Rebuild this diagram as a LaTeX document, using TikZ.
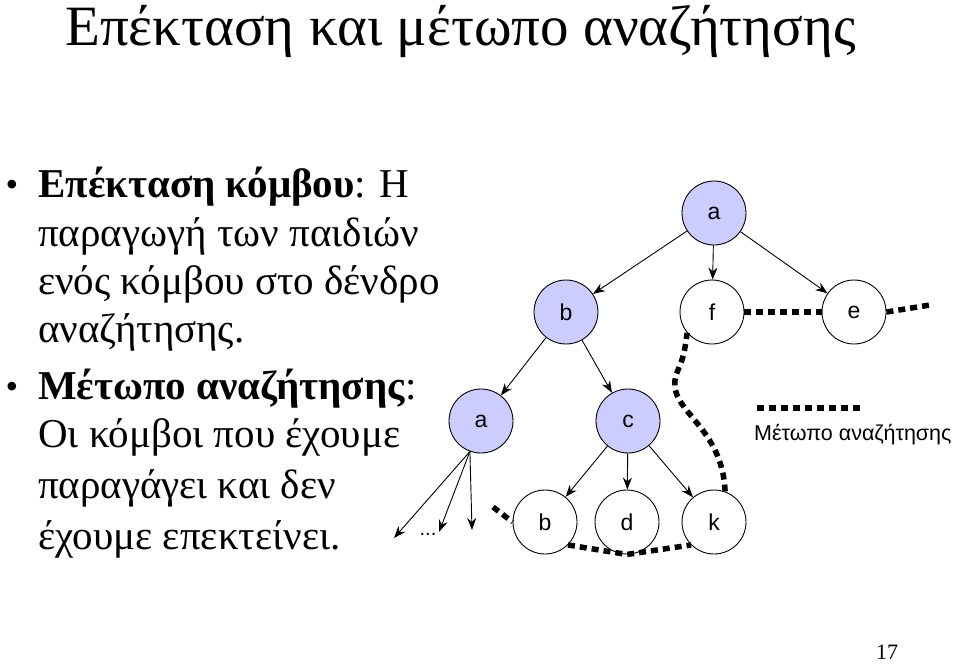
\documentclass[tikz,border=0pt]{standalone}
\usepackage{fontspec}
\setmainfont{Liberation Serif}
\newfontfamily\arial{Liberation Sans}
\usetikzlibrary{arrows.meta}
\definecolor{lav}{RGB}{204,204,255}
\begin{document}
\begin{tikzpicture}[x=1pt,y=-1pt,
  nd/.style={circle,draw,line width=0.9pt,minimum size=64pt,inner sep=0pt,font=\arial\fontsize{23}{25}\selectfont},
  ex/.style={nd,fill=lav},
  edge/.style={-{Stealth[length=12pt,width=9pt]},line width=0.9pt},
  fr/.style={line width=5.5pt,dash pattern=on 7pt off 5pt},
  txt/.style={anchor=base west,inner sep=0pt,font=\fontsize{41}{44}\selectfont}]
\useasboundingbox (0,0) rectangle (960,664);
\node[anchor=base west,inner sep=0pt,font=\fontsize{57}{60}\selectfont] (title) at (65,45) {Επέκταση και μέτωπο αναζήτησης};
\node[txt] (l1) at (38,197) {\textbf{Επέκταση κόμβου}: Η};
\node[txt] (l2) at (38,246) {παραγωγή των παιδιών};
\node[txt] (l3) at (38,294) {ενός κόμβου στο δένδρο};
\node[txt] (l4) at (38,342) {αναζήτησης.};
\node[txt] (l5) at (38,399) {\textbf{Μέτωπο αναζήτησης}:};
\node[txt] (l6) at (38,447) {Οι κόμβοι που έχουμε};
\node[txt] (l7) at (38,498) {παραγάγει και δεν};
\node[txt] (l8) at (38,549) {έχουμε επεκτείνει.};
\node[font=\fontsize{36}{40}\selectfont] (b1) at (12,188) {•};
\node[font=\fontsize{36}{40}\selectfont] (b2) at (12,390) {•};
\node[anchor=base,inner sep=0pt,font=\fontsize{22}{24}\selectfont] (pg) at (887,659) {17};
\node[ex] (A) at (714,213) {a};
\node[ex] (B) at (566,312) {b};
\node[nd] (F) at (712,312) {f};
\node[nd] (E) at (854,312) {e};
\node[ex] (A2) at (481,421) {a};
\node[ex] (C) at (628,421) {c};
\node[nd] (B2) at (545,522) {b};
\node[nd] (D) at (627,522) {d};
\node[nd] (K) at (714,522) {k};
\node[font=\arial\fontsize{20}{22}\selectfont] (dots) at (428,534) {...};
\coordinate (x1) at (394,538);
\coordinate (x2) at (439,532);
\coordinate (x3) at (472,530);
\draw[edge] (A) -- (B);
\draw[edge] (A) -- (F);
\draw[edge] (A) -- (E);
\draw[edge] (B) -- (A2);
\draw[edge] (B) -- (C);
\draw[edge] (C) -- (B2);
\draw[edge] (C) -- (D);
\draw[edge] (C) -- (K);
\draw[edge] (A2.250) -- (x1);
\draw[edge] (A2.250) -- (x2);
\draw[edge] (A2.250) -- (x3);
\draw[fr] (493,507) -- (B2.west);
\draw[fr] (B2.south east) -- (D.south) -- (K.south west);
\draw[fr] (K.70) .. controls (722,420) and (660,410) .. (678,370) .. controls (684,355) .. (F.220);
\draw[fr] (F.east) -- (E.west);
\draw[fr] (E.east) -- (930,305);
\coordinate (lg1) at (757,408);
\coordinate (lg2) at (862,408);
\draw[fr] (lg1) -- (lg2);
\node[anchor=base west,inner sep=0pt,font=\arial\fontsize{21.5}{24}\selectfont] (lgt) at (754,440) {Μέτωπο αναζήτησης};
\end{tikzpicture}
\end{document}
